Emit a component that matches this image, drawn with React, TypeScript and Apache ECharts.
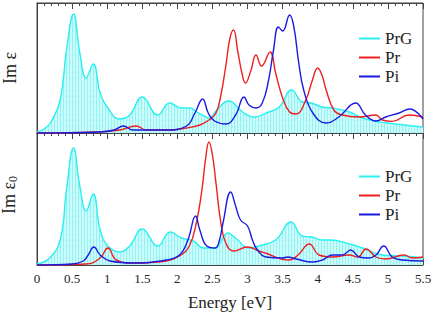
import React, { useEffect, useRef } from "react";
import * as echarts from "echarts";

// ---- Top panel (Im ε) ----
const topPrGE = [0, 0.1, 0.19, 0.33, 0.42, 0.52, 0.61, 0.7, 0.8, 0.9, 0.99, 1.18, 1.32, 1.5, 1.72, 1.89, 2.06, 2.18, 2.28, 2.38, 2.46, 2.56, 2.73, 2.93, 3.09, 3.3, 3.45, 3.63, 3.78, 3.9, 4.07, 4.21, 4.45, 4.64, 4.83, 5.11, 5.5];
const topPrGV = [1, 4, 10, 33, 83, 119, 80, 55, 69, 40, 27, 14, 18, 36, 18, 30, 25, 25, 21, 17, 15, 23, 32, 21, 16, 21, 26, 43, 31, 30, 26, 25, 21, 15, 11.6, 9, 6];

const topPrE = [0, 0.8, 1.18, 1.41, 1.56, 1.85, 2.13, 2.32, 2.45, 2.55, 2.62, 2.69, 2.75, 2.8, 2.86, 2.92, 2.97, 3.05, 3.12, 3.2, 3.32, 3.4, 3.5, 3.6, 3.69, 3.83, 3.92, 4.0, 4.06, 4.12, 4.23, 4.35, 4.59, 4.83, 4.92, 5.06, 5.3, 5.5];
const topPrV = [0, 1, 3, 7, 3, 3, 5, 8, 13, 20, 38, 67, 95, 103, 82, 60, 50, 63, 78, 67, 81, 60, 35, 21, 19, 33, 52, 65, 58, 43, 23, 18, 16, 18, 13, 11.6, 18, 16];

const topPiE = [0, 0.9, 1.1, 1.23, 1.37, 1.85, 2.13, 2.25, 2.36, 2.44, 2.53, 2.69, 2.83, 2.95, 3.02, 3.12, 3.21, 3.3, 3.37, 3.44, 3.5, 3.6, 3.66, 3.73, 3.8, 3.93, 4.12, 4.3, 4.54, 4.68, 4.83, 4.97, 5.16, 5.31, 5.5];
const topPiV = [0, 1, 3, 7, 3, 3, 7, 20, 34, 20, 12, 9, 18, 36, 28, 25, 30, 53, 83, 106, 102, 118, 106, 70, 43, 20, 10, 16, 30, 18, 12, 16, 20, 24, 14];

// ---- Bottom panel (Im ε0) ----
const botPrGE = [0, 0.18, 0.33, 0.42, 0.52, 0.61, 0.7, 0.8, 0.9, 1.01, 1.18, 1.32, 1.5, 1.72, 1.9, 2.06, 2.23, 2.37, 2.53, 2.72, 2.83, 3.02, 3.16, 3.4, 3.62, 3.78, 3.91, 4.07, 4.19, 4.45, 4.64, 4.92, 5.21, 5.5];
const botPrGV = [1, 7, 25, 75, 117, 79, 54, 71, 35, 19, 13, 19, 36, 19, 33, 27, 24, 17, 17, 32, 27, 17, 19, 25, 43, 29, 28, 25, 25, 21, 17, 10, 9, 7];

const botPrE = [0, 0.7, 0.9, 1.01, 1.13, 1.37, 1.84, 2.03, 2.17, 2.27, 2.35, 2.4, 2.45, 2.5, 2.55, 2.62, 2.69, 2.8, 3.0, 3.16, 3.25, 3.59, 3.72, 3.88, 4.02, 4.21, 4.45, 4.57, 4.69, 4.83, 4.97, 5.23, 5.35, 5.5];
const botPrV = [0, 1, 7, 17, 5, 2, 4, 9, 19, 42, 75, 105, 123, 110, 82, 42, 22, 14, 18, 14, 12, 5, 10, 21, 10, 8, 10, 8, 16, 8, 6, 10, 7, 8];

const botPiE = [0, 0.5, 0.66, 0.73, 0.81, 0.9, 1.04, 1.37, 1.84, 2.03, 2.15, 2.26, 2.32, 2.42, 2.54, 2.6, 2.65, 2.76, 2.83, 2.9, 3.0, 3.07, 3.14, 3.26, 3.5, 3.57, 3.69, 3.93, 4.07, 4.21, 4.35, 4.47, 4.59, 4.73, 4.83, 4.94, 5.06, 5.21, 5.5];
const botPiV = [0, 1, 4, 10, 18, 10, 4, 2, 5, 10, 25, 49, 35, 19, 17, 25, 42, 73, 59, 45, 39, 25, 15, 8, 7, 8, 6, 3, 5, 10, 10, 15, 8, 7, 10, 19, 8, 5, 4];

const xTicks = ["0", "0.5", "1", "1.5", "2", "2.5", "3", "3.5", "4", "4.5", "5", "5.5"];
const xTitle = "Energy [eV]";
const seriesNames = ["PrG", "Pr", "Pi"];
const colors = ["#2af0f0", "#ee2020", "#1a1ae0"];

const zip = (xs: number[], ys: number[]) => xs.map((x, i) => [x, ys[i]]);

export default function App() {
  const ref = useRef<HTMLDivElement>(null);
  useEffect(() => {
    if (!ref.current) return;
    const chart = echarts.init(ref.current, undefined, { renderer: "svg" });

    const cv = document.createElement("canvas");
    cv.width = 3;
    cv.height = 6;
    const ctx = cv.getContext("2d")!;
    ctx.fillStyle = "rgb(204,252,252)";
    ctx.fillRect(0, 0, 3, 6);
    ctx.fillStyle = "rgb(150,242,242)";
    ctx.fillRect(0, 0, 1, 6);
    ctx.fillStyle = "rgb(180,246,246)";
    ctx.fillRect(1, 0, 1, 1);
    const fill: any = { image: cv, repeat: "repeat" };

    const serif = "'Times New Roman', 'Liberation Serif', serif";
    const txt = { fontFamily: serif, fontWeight: "normal", fontStyle: "normal", color: "#222" };
    const fmt = (v: number) => {
      const idx = Math.round(v / 0.5);
      return Math.abs(v - idx * 0.5) < 1e-6 && xTicks[idx] !== undefined ? "{t|" + xTicks[idx] + "}" : "";
    };

    const baseX = (gridIndex: number, position: string, showTicks: boolean, showLabels: boolean) => ({
      type: "value",
      gridIndex,
      position,
      min: 0,
      max: 5.5,
      interval: 0.5,
      axisLine: { show: true, onZero: false, lineStyle: { color: "#444", width: 1 } },
      axisTick: { show: showTicks, inside: true, length: 6, lineStyle: { color: "#444" } },
      minorTick: { show: showTicks, splitNumber: 5, length: 3, lineStyle: { color: "#444" } },
      axisLabel: {
        show: showLabels,
        formatter: fmt,
        ...txt,
        fontSize: 13,
        margin: 7,
        showMaxLabel: true,
        showMinLabel: true,
        rich: { t: { ...txt, fontSize: 13 } },
      },
      splitLine: { show: false },
    });

    const mkSeries = (name: string, xi: number, yi: number, data: number[][], idx: number) => ({
      name,
      type: "line",
      xAxisIndex: xi,
      yAxisIndex: yi,
      data,
      smooth: 0.45,
      showSymbol: false,
      symbol: "none",
      lineStyle: { color: colors[idx], width: 1.4 },
      itemStyle: { color: colors[idx] },
      areaStyle: idx === 0 ? { color: fill, opacity: 1 } : undefined,
      z: 2 + idx,
    });

    const legendBase = {
      orient: "vertical",
      left: 354,
      itemWidth: 21,
      itemHeight: 2,
      itemGap: 2,
      icon: "rect",
      data: seriesNames,
      textStyle: { ...txt, fontSize: 17, lineHeight: 16 },
    };

    chart.setOption({
      animation: false,
      backgroundColor: "#fff",
      textStyle: { fontFamily: serif },
      grid: [
        { left: 37, right: 9, top: 3, height: 130, show: true, borderColor: "#444", borderWidth: 1, outerBoundsMode: "none", containLabel: false },
        { left: 37, right: 9, top: 133, height: 132, show: true, borderColor: "#444", borderWidth: 1, outerBoundsMode: "none", containLabel: false },
      ],
      legend: [
        { ...legendBase, top: 25 },
        { ...legendBase, top: 163 },
      ],
      graphic: [
        {
          type: "text",
          x: 230,
          y: 302,
          style: {
            text: xTitle,
            fontFamily: serif,
            fontSize: 17,
            fill: "#222",
            align: "center",
            verticalAlign: "middle",
          },
        },
      ],
      xAxis: [
        baseX(0, "top", true, false),
        baseX(0, "bottom", false, false),
        baseX(1, "top", true, false),
        baseX(1, "bottom", true, true),
      ],
      yAxis: [
        {
          type: "value",
          gridIndex: 0,
          min: 0,
          max: 130,
          axisLine: { show: true, lineStyle: { color: "#444" } },
          axisTick: { show: false },
          axisLabel: { show: false },
          splitLine: { show: false },
          name: "Im ε",
          nameLocation: "middle",
          nameRotate: 90,
          nameGap: 18,
          nameTextStyle: { ...txt, fontSize: 18 },
        },
        {
          type: "value",
          gridIndex: 1,
          min: 0,
          max: 132,
          axisLine: { show: true, lineStyle: { color: "#444" } },
          axisTick: { show: false },
          axisLabel: { show: false },
          splitLine: { show: false },
          name: "Im ε{s|0}",
          nameLocation: "middle",
          nameRotate: 90,
          nameGap: 18,
          nameTextStyle: {
            ...txt,
            fontSize: 18,
            padding: [0, 0, 0, 8],
            rich: { s: { ...txt, fontSize: 12, verticalAlign: "bottom", padding: [8, 0, 0, 0] } },
          },
        },
      ],
      series: [
        mkSeries("PrG", 1, 0, zip(topPrGE, topPrGV), 0),
        mkSeries("Pr", 1, 0, zip(topPrE, topPrV), 1),
        mkSeries("Pi", 1, 0, zip(topPiE, topPiV), 2),
        mkSeries("PrG", 3, 1, zip(botPrGE, botPrGV), 0),
        mkSeries("Pr", 3, 1, zip(botPrE, botPrV), 1),
        mkSeries("Pi", 3, 1, zip(botPiE, botPiV), 2),
      ],
    });
    return () => chart.dispose();
  }, []);
  return <div ref={ref} style={{ position: "fixed", left: 0, top: 0, width: 432, height: 314 }} />;
}
